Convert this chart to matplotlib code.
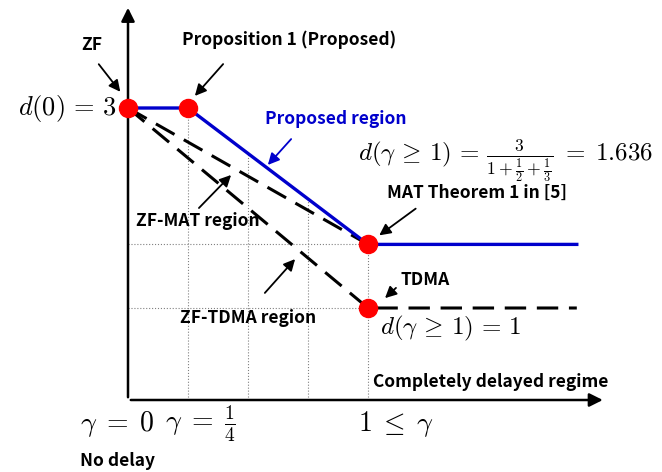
import numpy as np
import matplotlib.pyplot as plt

plt.rcParams['mathtext.fontset'] = 'cm'
plt.rcParams['font.family'] = ['Noto Sans CJK KR', 'DejaVu Sans']

# DoF regions vs delay gamma
gamma_prop = [0, 0.25, 1, 1.87]
d_prop = [3, 3, 1.636, 1.636]
gamma_mat = [0, 1]
d_mat = [3, 1.636]
gamma_tdma = [0, 1, 1.87]
d_tdma = [3, 1, 1]
corner_gamma = [0, 0.25, 1, 1]
corner_d = [3, 3, 1.636, 1]
grid_gamma = [0.25, 0.5, 0.75, 1]
grid_d = [1.636, 1]

fig = plt.figure(figsize=(6.62, 4.72), dpi=100)
ax = fig.add_axes([0, 0, 1, 1])
ax.set_xlim(-128 / 240, 534 / 240)
ax.set_ylim(-0.64, 4.08)
ax.axis('off')

x_base = 0.08  # where the gamma axis sits

# dotted guides
for g in grid_gamma:
    top = np.interp(g, gamma_prop, d_prop)
    ax.plot([g, g], [x_base, top], ls=':', color='gray', lw=0.8, zorder=1)
for d in grid_d:
    ax.plot([0, 1], [d, d], ls=':', color='gray', lw=0.8, zorder=1)

# axes with arrows
ax.annotate('', xy=(0, 4.03), xytext=(0, x_base),
            arrowprops=dict(arrowstyle='-|>', color='black', lw=1.8, mutation_scale=20))
ax.annotate('', xy=(1.99, x_base), xytext=(0, x_base),
            arrowprops=dict(arrowstyle='-|>', color='black', lw=1.8, mutation_scale=20))

ax.plot(gamma_mat, d_mat, color='black', lw=2.2, dashes=(7, 3.5), zorder=2)
ax.plot(gamma_tdma, d_tdma, color='black', lw=2.2, dashes=(7, 3.5), zorder=2)
ax.plot(gamma_prop, d_prop, color='#0000cc', lw=2.4, zorder=3)
ax.plot(corner_gamma, corner_d, 'o', color='red', ms=13, zorder=4)

bold = dict(fontsize=12.5, fontweight='bold', ha='center', va='center')
arr = dict(arrowstyle='-|>', color='black', lw=1.3, mutation_scale=17)

ax.text(-0.15, 3.63, 'ZF', **bold)
ax.annotate('', xy=(-0.025, 3.14), xytext=(-0.129, 3.46), arrowprops=arr)
ax.text(0.671, 3.68, 'Proposition 1 (Proposed)', **bold)
ax.annotate('', xy=(0.271, 3.10), xytext=(0.404, 3.46), arrowprops=arr)
ax.text(0.867, 2.89, 'Proposed region', color='#0000cc', **bold)
ax.annotate('', xy=(0.575, 2.41), xytext=(0.6875, 2.71),
            arrowprops=dict(arr, color='#0000cc'))
ax.text(0.958, 2.47,
        r'$d(\gamma\,\geq\,1)\,=\,\frac{3}{1+\frac{1}{2}+\frac{1}{3}}\;=\;1.636$',
        fontsize=18, ha='left', va='center')
ax.text(1.454, 2.15, 'MAT Theorem 1 in [5]', **bold)
ax.annotate('', xy=(1.0375, 1.71), xytext=(1.208, 2.01), arrowprops=arr)
ax.text(0.29, 1.87, 'ZF-MAT region', **bold)
ax.annotate('', xy=(0.4375, 2.35), xytext=(0.2875, 1.98), arrowprops=arr)
ax.text(0.5, 0.90, 'ZF-TDMA region', **bold)
ax.annotate('', xy=(0.704, 1.51), xytext=(0.5625, 1.13), arrowprops=arr)
ax.text(1.2375, 1.28, 'TDMA', **bold)
ax.annotate('', xy=(1.0625, 1.08), xytext=(1.125, 1.22), arrowprops=arr)
ax.text(1.05, 0.80, r'$d(\gamma\,\geq\,1)\,=\,1$', fontsize=18, ha='left', va='center')
ax.text(1.51, 0.26, 'Completely delayed regime', **bold)

ax.text(-0.046, 2.99, r'$d(0)\,=\,3$', fontsize=19, ha='right', va='center')
ax.text(-0.2, -0.16, r'$\gamma\;=\;0$', fontsize=20, ha='left', va='center')
ax.text(0.154, -0.16, r'$\gamma\;=\;\frac{1}{4}$', fontsize=20, ha='left', va='center')
ax.text(1.117, -0.16, r'$1\;\leq\;\gamma$', fontsize=20, ha='center', va='center')
ax.text(-0.2, -0.53, 'No delay', fontsize=12.5, fontweight='bold', ha='left', va='center')

fig.savefig('out.png', dpi=100)
